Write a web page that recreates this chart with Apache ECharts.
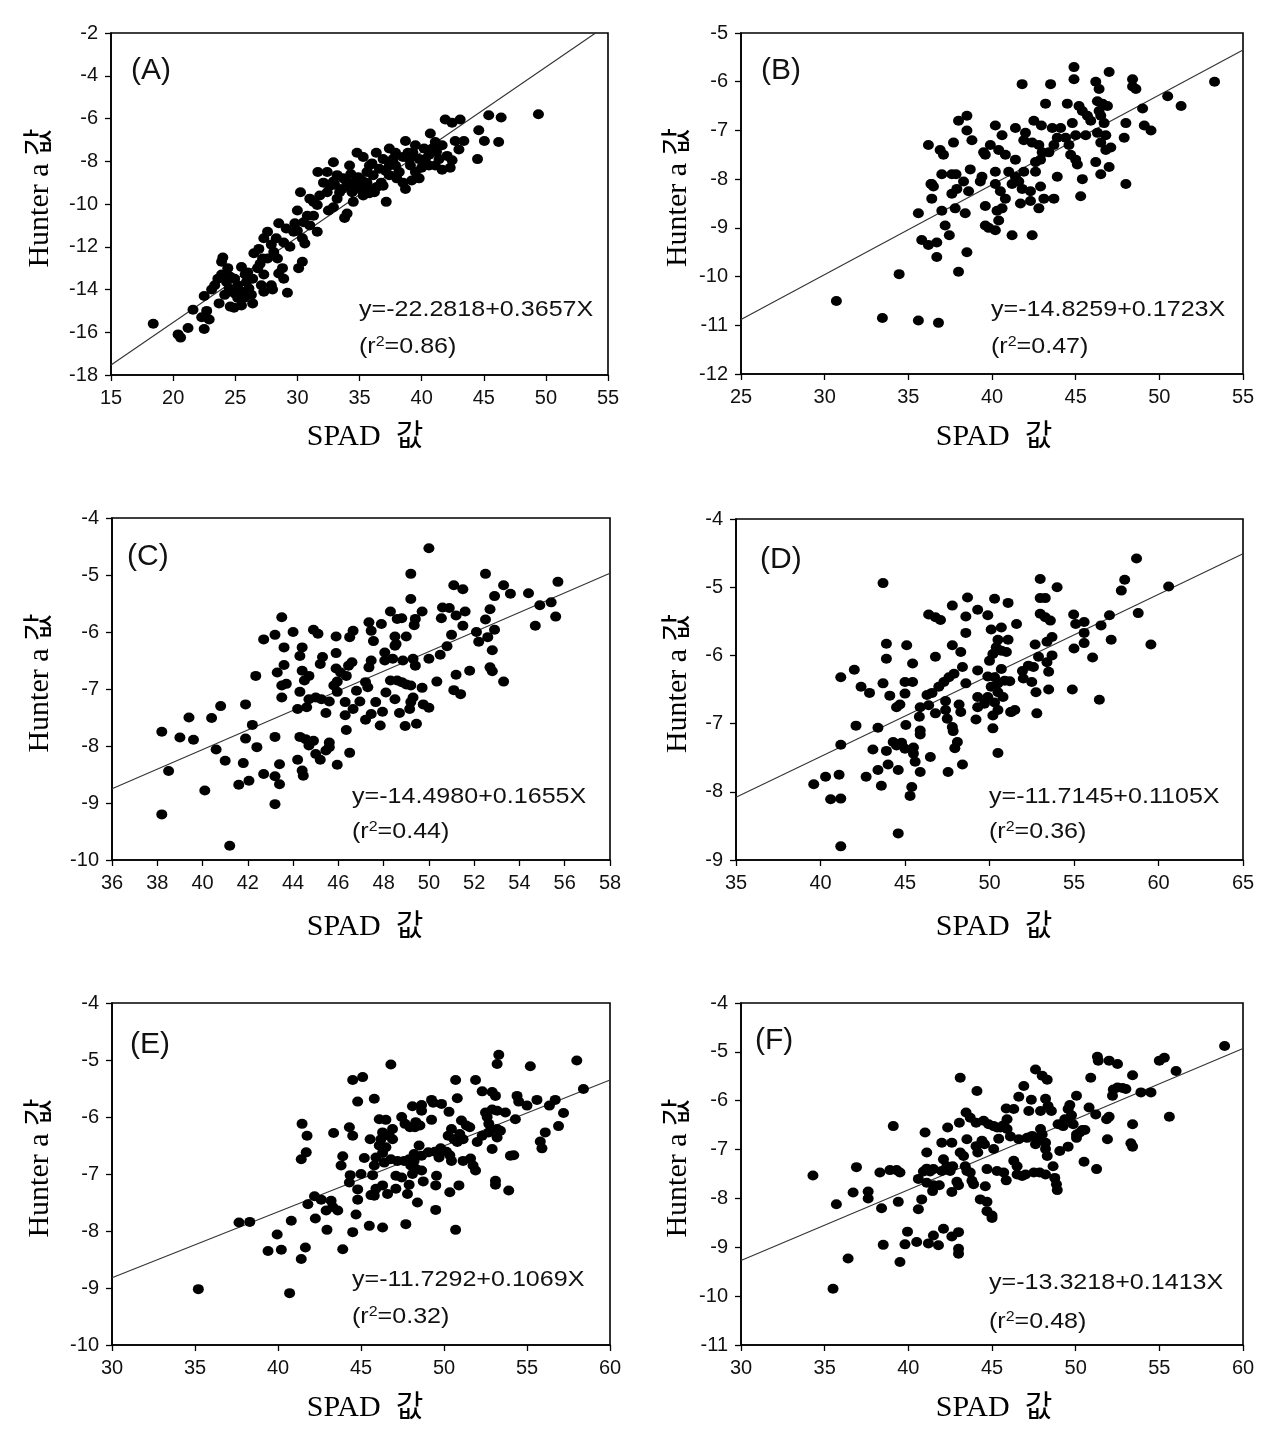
<!DOCTYPE html>
<html><head><meta charset="utf-8">
<script src="https://cdn.jsdelivr.net/npm/echarts@6/dist/echarts.min.js"></script>
<style>html,body{margin:0;padding:0;background:#fff}#c{width:1285px;height:1445px}</style>
</head><body><div id="c"></div>
<script>
// ---------------- DATA ----------------
const pointsA = [[18.4,-15.6],[20.4,-16.1],[20.6,-16.25],[21.2,-15.8],[21.6,-14.95],[22.5,-15.85],[22.3,-15.3],[22.7,-15.0],[22.9,-15.4],[22.5,-14.3],[23.1,-14.0],[23.7,-14.65],[24.0,-12.5],[23.9,-12.7],[24.6,-14.8],[24.9,-14.85],[23.9,-13.3],[24.3,-13.65],[24.5,-13.95],[24.95,-13.5],[25.2,-13.8],[25.6,-14.1],[25.9,-13.65],[26.1,-13.95],[26.4,-13.5],[25.5,-12.95],[26.4,-14.65],[26.3,-14.25],[23.35,-13.8],[24.15,-14.25],[25.2,-14.4],[25.7,-14.4],[26.5,-12.3],[26.9,-12.1],[27.6,-11.3],[27.3,-11.6],[27.9,-11.9],[27.2,-12.55],[26.8,-13.0],[27.3,-13.3],[27.9,-13.8],[28.0,-14.0],[28.4,-12.55],[28.5,-13.25],[28.9,-13.5],[29.2,-14.15],[28.8,-13.0],[28.5,-10.9],[29.1,-11.15],[29.4,-12.0],[30.0,-11.25],[30.4,-11.6],[30.6,-11.85],[30.1,-13.0],[30.4,-12.7],[30.0,-10.3],[30.25,-9.45],[30.5,-10.85],[31.0,-11.0],[31.3,-10.55],[31.6,-10.05],[31.65,-8.5],[32.4,-8.5],[32.1,-9.0],[32.6,-9.15],[32.5,-10.3],[32.9,-10.15],[33.2,-9.75],[33.4,-9.45],[33.8,-10.65],[34.0,-10.45],[34.2,-9.15],[34.6,-9.0],[35.0,-9.3],[35.3,-9.6],[34.5,-9.9],[33.7,-8.8],[33.2,-8.65],[34.8,-7.6],[35.3,-7.8],[35.8,-8.2],[36.35,-7.6],[36.9,-7.9],[37.15,-9.9],[36.75,-9.0],[36.1,-8.65],[35.6,-9.0],[36.6,-8.35],[37.4,-8.65],[37.9,-7.6],[38.7,-7.05],[39.5,-7.25],[39.3,-7.6],[39.8,-7.9],[38.5,-9.0],[38.7,-9.3],[39.8,-8.8],[37.9,-8.2],[38.2,-8.5],[39.1,-8.2],[40.7,-6.7],[41.1,-7.1],[41.65,-7.25],[41.9,-6.05],[42.45,-6.2],[43.1,-6.05],[42.7,-7.05],[43.4,-7.05],[43.0,-7.45],[42.3,-8.3],[41.65,-8.4],[41.1,-8.2],[40.6,-8.2],[44.6,-6.55],[45.05,-7.05],[44.5,-7.9],[45.4,-5.85],[46.4,-5.95],[46.2,-7.1],[49.4,-5.8],[28.9,-11.8],[29.7,-11.3],[30.8,-10.55],[31.0,-9.75],[31.8,-9.6],[32.4,-9.45],[32.9,-8.95],[33.6,-9.3],[34.4,-9.45],[34.9,-8.75],[35.6,-8.5],[35.7,-9.3],[36.2,-9.45],[36.9,-9.15],[37.4,-8.2],[37.7,-7.9],[39.5,-8.5],[40.3,-7.9],[40.2,-7.4],[41.4,-7.9],[42.05,-7.75],[40.85,-7.4],[42.45,-7.95],[39.0,-7.9],[31.6,-11.3],[28.1,-12.25],[27.6,-12.55],[26.0,-13.2],[24.4,-13.0],[23.6,-13.5],[24.7,-14.1],[26.0,-14.2],[25.5,-14.75],[27.1,-13.8],[27.3,-14.1],[32.9,-8.05],[34.2,-8.2],[37.4,-7.4],[38.5,-7.8],[35.8,-9.5],[33.0,-9.1],[33.9,-8.9],[34.3,-8.6],[35.2,-8.9],[36.0,-8.1],[36.4,-9.2],[37.1,-8.45],[38.0,-8.8],[38.9,-7.6],[39.2,-8.9],[40.0,-8.3],[40.6,-7.7],[41.2,-7.55],[25.0,-14.2],[24.6,-13.4],[25.8,-13.3],[27.0,-12.8],[28.3,-11.6],[29.8,-10.9],[31.3,-9.9]];

const pointsB = [[30.7,-10.5],[33.45,-10.85],[35.6,-10.9],[36.8,-10.95],[34.45,-9.95],[38.0,-9.9],[38.5,-9.5],[36.7,-9.6],[35.6,-8.7],[35.8,-9.25],[36.2,-9.35],[36.7,-9.3],[37.2,-8.95],[37.45,-9.15],[37.0,-8.65],[37.8,-8.6],[38.4,-8.7],[36.4,-8.4],[36.5,-8.15],[36.4,-8.1],[37.0,-7.9],[37.6,-7.9],[37.85,-7.9],[37.6,-8.3],[37.9,-8.2],[38.3,-8.05],[38.6,-8.25],[38.7,-7.8],[39.3,-8.05],[39.4,-7.95],[39.6,-8.55],[39.6,-8.95],[39.8,-9.0],[40.2,-9.05],[40.4,-8.85],[40.3,-8.65],[40.2,-8.1],[40.2,-7.85],[40.5,-8.25],[40.8,-8.4],[40.6,-8.6],[41.2,-9.15],[42.4,-9.15],[41.7,-8.5],[41.2,-8.1],[41.0,-7.85],[41.4,-7.95],[41.6,-8.05],[41.9,-7.85],[41.8,-8.2],[42.3,-8.25],[42.3,-8.45],[42.8,-8.6],[42.9,-8.15],[43.1,-8.4],[43.7,-8.4],[43.9,-7.95],[42.6,-7.85],[42.6,-7.65],[42.9,-7.6],[43.0,-7.45],[42.8,-7.3],[42.4,-7.25],[41.9,-7.2],[41.4,-7.6],[40.8,-7.5],[40.4,-7.4],[39.9,-7.3],[39.6,-7.5],[39.5,-7.45],[40.2,-6.9],[40.6,-7.1],[41.4,-6.95],[42.0,-7.05],[42.5,-6.8],[42.95,-6.9],[43.2,-6.45],[43.5,-6.05],[41.8,-6.05],[43.6,-6.95],[44.1,-6.95],[43.9,-7.15],[43.7,-7.3],[43.4,-7.45],[44.6,-7.3],[44.7,-7.5],[45.0,-7.6],[45.1,-7.7],[45.4,-8.0],[45.3,-8.35],[44.4,-7.15],[45.0,-7.1],[45.6,-7.1],[44.8,-6.85],[45.2,-6.5],[45.4,-6.6],[45.7,-6.7],[45.9,-6.8],[44.5,-6.45],[44.9,-5.95],[44.9,-5.7],[46.2,-6.0],[46.4,-6.15],[46.3,-6.4],[46.6,-6.45],[46.9,-6.5],[46.4,-6.6],[46.5,-6.7],[46.7,-6.85],[46.3,-7.05],[46.8,-7.1],[46.5,-7.25],[46.8,-7.4],[47.1,-7.35],[46.2,-7.65],[47.0,-7.75],[46.5,-7.9],[48.0,-8.1],[47.0,-5.8],[48.4,-5.95],[48.4,-6.1],[48.6,-6.15],[49.0,-6.55],[49.1,-6.9],[49.5,-7.0],[48.0,-6.85],[47.9,-7.15],[50.5,-6.3],[51.3,-6.5],[53.3,-6.0],[36.2,-7.3],[36.9,-7.4],[37.1,-7.5],[37.7,-7.25],[38.0,-6.8],[38.5,-6.7],[38.5,-7.0],[38.8,-7.2],[36.35,-8.1]];

const pointsC = [[50.0,-4.53],[49.2,-4.98],[52.5,-4.98],[49.2,-5.42],[51.1,-5.18],[51.5,-5.25],[53.3,-5.18],[53.6,-5.33],[54.4,-5.32],[55.7,-5.12],[52.9,-5.37],[52.7,-5.6],[54.9,-5.53],[55.4,-5.48],[55.6,-5.73],[54.7,-5.89],[52.5,-5.78],[52.9,-5.96],[52.6,-6.09],[52.1,-6.0],[52.2,-6.17],[52.8,-6.32],[52.7,-6.62],[52.8,-6.69],[53.3,-6.87],[51.8,-6.68],[51.2,-6.75],[51.1,-7.02],[51.4,-7.09],[50.6,-5.57],[50.9,-5.58],[51.2,-5.71],[51.6,-5.64],[50.55,-5.76],[51.5,-5.89],[51.0,-6.05],[50.8,-6.25],[50.5,-6.4],[50.0,-6.47],[50.35,-6.87],[49.7,-5.64],[49.4,-5.77],[49.35,-5.88],[48.3,-5.64],[48.6,-5.77],[48.8,-5.76],[47.9,-5.86],[47.35,-5.83],[47.45,-5.98],[47.55,-6.16],[48.5,-6.08],[48.55,-6.21],[48.5,-6.24],[49.0,-6.08],[48.05,-6.36],[48.4,-6.47],[48.85,-6.5],[49.3,-6.47],[49.4,-6.59],[47.45,-6.5],[47.35,-6.62],[48.05,-6.5],[48.3,-6.85],[48.6,-6.85],[48.8,-6.88],[49.0,-6.92],[49.2,-6.94],[49.7,-6.98],[48.1,-7.06],[48.5,-7.18],[49.3,-7.15],[49.2,-7.23],[49.15,-7.35],[49.75,-7.27],[50.0,-7.33],[48.7,-7.42],[48.95,-7.65],[49.45,-7.61],[47.95,-7.4],[47.85,-7.64],[47.65,-7.23],[47.2,-6.88],[47.3,-6.97],[47.45,-7.44],[47.2,-7.54],[46.95,-7.22],[46.65,-7.35],[46.8,-7.03],[46.35,-6.77],[46.6,-6.53],[46.45,-6.59],[46.3,-7.23],[46.3,-7.46],[46.35,-7.72],[46.5,-8.12],[45.95,-6.87],[45.8,-6.94],[45.95,-7.05],[46.1,-6.71],[45.9,-6.64],[45.9,-6.37],[45.9,-6.08],[46.5,-6.09],[46.65,-5.98],[45.3,-6.44],[45.2,-6.56],[44.9,-5.96],[45.1,-6.03],[44.4,-6.27],[44.3,-6.42],[44.4,-6.68],[44.7,-6.77],[44.5,-6.85],[44.3,-7.05],[44.2,-7.35],[44.6,-7.32],[44.7,-7.18],[45.0,-7.15],[45.25,-7.18],[45.6,-7.22],[45.45,-7.42],[43.6,-6.27],[43.6,-6.58],[43.3,-6.71],[43.5,-6.94],[43.7,-6.91],[43.5,-7.15],[43.5,-5.74],[44.0,-6.0],[43.2,-6.05],[42.7,-6.13],[42.35,-6.77],[41.9,-7.27],[42.2,-7.63],[40.8,-7.3],[40.4,-7.51],[39.4,-7.5],[38.2,-7.75],[39.0,-7.85],[39.6,-7.89],[40.6,-8.06],[41.0,-8.26],[38.5,-8.44],[40.1,-8.78],[38.2,-9.2],[41.2,-9.75],[41.9,-7.87],[42.4,-8.02],[41.8,-8.3],[41.6,-8.68],[42.05,-8.61],[42.7,-8.49],[43.2,-8.53],[43.4,-8.67],[43.4,-8.32],[43.2,-7.84],[43.2,-9.02],[44.3,-7.84],[44.2,-8.24],[44.4,-8.43],[44.45,-8.52],[44.55,-7.88],[44.7,-7.99],[44.9,-7.91],[45.0,-8.14],[45.2,-8.24],[45.45,-8.08],[45.6,-7.94],[45.6,-8.02],[45.95,-8.33]];

const pointsD = [[58.7,-4.58],[43.7,-4.94],[53.0,-4.88],[54.0,-5.0],[58.0,-4.89],[57.8,-5.05],[60.6,-4.99],[58.8,-5.38],[59.55,-5.84],[48.7,-5.15],[50.3,-5.17],[51.1,-5.23],[47.8,-5.27],[49.3,-5.33],[49.9,-5.41],[48.6,-5.43],[46.4,-5.4],[46.8,-5.44],[47.1,-5.48],[51.6,-5.54],[50.1,-5.62],[50.7,-5.59],[48.6,-5.67],[53.0,-5.16],[53.3,-5.16],[53.0,-5.39],[53.3,-5.44],[53.6,-5.49],[54.98,-5.4],[55.1,-5.54],[55.6,-5.51],[55.6,-5.67],[56.6,-5.56],[57.1,-5.41],[57.2,-5.77],[55.6,-5.82],[55.0,-5.9],[56.1,-6.03],[53.7,-5.73],[53.4,-5.8],[52.7,-5.84],[52.9,-6.02],[53.7,-6.0],[53.4,-6.1],[53.5,-6.24],[52.6,-6.17],[52.3,-6.15],[51.95,-6.23],[52.0,-6.34],[52.5,-6.39],[53.5,-6.5],[52.75,-6.54],[54.9,-6.5],[56.5,-6.65],[52.8,-6.85],[50.5,-5.77],[51.1,-5.77],[50.4,-5.88],[50.7,-5.93],[51.0,-5.95],[50.2,-5.98],[50.0,-6.08],[50.7,-6.2],[49.9,-6.31],[50.3,-6.32],[50.5,-6.41],[50.9,-6.37],[51.2,-6.38],[50.1,-6.46],[50.5,-6.54],[50.8,-6.61],[49.9,-6.61],[49.3,-6.61],[49.7,-6.71],[50.3,-6.69],[50.5,-6.8],[51.25,-6.83],[51.5,-6.8],[50.2,-6.88],[50.2,-7.07],[49.3,-6.76],[49.2,-6.94],[49.3,-6.22],[48.4,-6.17],[48.3,-5.95],[47.8,-5.85],[46.8,-6.02],[48.6,-6.41],[47.9,-6.27],[47.6,-6.32],[47.3,-6.39],[47.0,-6.46],[46.6,-6.55],[46.3,-6.58],[46.4,-6.73],[45.9,-6.76],[46.8,-6.85],[47.4,-6.67],[47.4,-6.8],[47.5,-6.93],[47.8,-7.05],[47.85,-7.11],[48.2,-6.72],[48.3,-6.83],[48.1,-7.27],[47.95,-7.36],[48.4,-7.6],[47.55,-7.71],[46.5,-7.49],[45.85,-6.9],[45.9,-7.1],[45.9,-7.16],[45.05,-7.02],[45.5,-7.35],[45.5,-7.44],[45.6,-7.56],[45.9,-7.71],[45.4,-7.93],[45.3,-8.06],[44.6,-8.61],[44.7,-6.72],[44.5,-6.76],[45.0,-6.56],[45.0,-6.39],[45.45,-6.39],[45.45,-6.12],[44.1,-6.59],[45.1,-5.85],[43.9,-5.83],[43.9,-6.05],[43.7,-6.41],[42.9,-6.55],[42.4,-6.46],[42.0,-6.21],[41.2,-6.32],[42.1,-7.03],[43.4,-7.06],[41.2,-7.31],[43.1,-7.38],[43.9,-7.4],[44.3,-7.27],[44.5,-7.32],[44.8,-7.28],[45.0,-7.37],[44.0,-7.6],[43.4,-7.68],[44.6,-7.68],[42.7,-7.78],[43.6,-7.91],[39.6,-7.89],[40.3,-7.78],[41.1,-7.75],[40.6,-8.11],[41.2,-8.1],[41.2,-8.8],[50.5,-7.43],[51.3,-6.83]];

const pointsE = [[35.2,-9.02],[40.7,-9.09],[37.65,-7.85],[38.3,-7.84],[39.4,-8.35],[40.2,-8.33],[39.95,-8.06],[41.4,-8.49],[41.65,-8.29],[40.8,-7.82],[43.9,-8.32],[41.45,-6.12],[41.75,-6.33],[41.7,-6.62],[41.4,-6.74],[41.8,-7.53],[42.2,-7.39],[42.6,-7.45],[42.25,-7.78],[42.9,-7.64],[43.2,-7.47],[43.3,-7.58],[43.6,-7.64],[42.95,-7.98],[43.35,-6.28],[44.5,-5.35],[45.1,-5.3],[44.8,-5.73],[45.8,-5.68],[46.8,-5.08],[44.3,-6.18],[44.5,-6.33],[43.9,-6.69],[43.8,-6.85],[44.35,-7.02],[44.3,-7.15],[45.0,-7.0],[44.8,-7.27],[44.8,-7.45],[44.7,-7.71],[44.5,-8.02],[45.5,-7.91],[46.3,-7.94],[45.2,-6.72],[45.55,-6.39],[45.7,-7.02],[45.9,-7.26],[45.8,-7.38],[45.6,-7.37],[46.3,-7.2],[46.6,-7.35],[47.1,-7.26],[47.1,-7.03],[47.45,-7.06],[47.9,-7.19],[47.8,-7.35],[48.4,-7.5],[47.7,-7.88],[48.75,-7.13],[49.55,-7.03],[49.5,-7.2],[49.5,-7.63],[50.35,-7.32],[50.9,-7.2],[50.7,-7.98],[46.1,-6.04],[46.5,-6.05],[46.3,-6.27],[46.2,-6.39],[46.1,-6.5],[46.5,-6.53],[46.3,-6.63],[46.7,-6.33],[46.9,-6.21],[46.9,-6.39],[45.9,-6.71],[45.8,-6.85],[46.4,-6.8],[46.8,-6.74],[47.2,-6.77],[47.6,-6.77],[47.9,-6.74],[48.2,-6.77],[48.0,-6.85],[48.3,-6.91],[48.65,-6.94],[48.1,-7.0],[48.5,-6.5],[48.2,-6.65],[48.65,-6.68],[49.05,-6.62],[49.45,-6.61],[49.8,-6.55],[50.15,-6.61],[50.35,-6.67],[50.45,-6.77],[49.7,-6.71],[47.45,-6.0],[47.65,-6.12],[47.95,-6.18],[48.3,-6.09],[48.55,-6.15],[48.25,-6.18],[48.1,-5.81],[48.65,-5.79],[48.65,-5.89],[49.25,-5.7],[49.35,-5.75],[49.85,-5.77],[49.25,-6.05],[50.3,-5.91],[50.45,-6.21],[50.25,-6.33],[50.6,-6.39],[50.8,-6.44],[50.8,-5.67],[50.7,-5.35],[51.05,-6.06],[51.35,-6.15],[50.95,-6.3],[51.15,-6.39],[51.55,-6.18],[51.9,-5.35],[52.3,-5.55],[51.15,-6.77],[51.6,-6.73],[51.75,-6.85],[51.9,-6.94],[52.0,-6.44],[52.3,-6.33],[52.7,-6.27],[52.5,-5.92],[52.9,-5.87],[52.6,-6.0],[52.7,-6.12],[52.9,-5.56],[53.1,-5.63],[53.3,-4.91],[53.2,-5.07],[53.2,-5.89],[53.7,-5.92],[53.4,-6.24],[53.2,-6.36],[52.9,-6.56],[53.1,-7.12],[53.1,-7.19],[53.9,-7.29],[54.0,-6.68],[54.2,-6.67],[54.3,-6.04],[54.4,-5.63],[54.5,-5.73],[55.0,-5.8],[55.2,-5.11],[55.6,-5.7],[56.35,-5.8],[56.7,-5.7],[56.1,-6.27],[55.8,-6.43],[55.9,-6.55],[56.9,-6.16],[57.2,-5.93],[58.0,-5.01],[58.4,-5.51],[53.2,-6.21]];

const pointsF = [[58.9,-4.88],[34.3,-7.53],[35.5,-9.85],[35.7,-8.12],[36.4,-9.23],[36.9,-7.36],[36.7,-7.88],[37.6,-7.86],[37.6,-8.0],[38.3,-7.47],[38.4,-8.2],[38.5,-8.95],[39.1,-6.52],[38.9,-7.42],[39.3,-7.42],[39.5,-7.47],[39.4,-8.07],[39.5,-9.3],[39.95,-8.68],[39.8,-8.94],[40.5,-8.89],[40.6,-8.22],[40.8,-8.02],[40.6,-7.6],[41.0,-6.65],[41.1,-7.06],[41.1,-7.39],[40.9,-7.45],[41.3,-7.45],[41.5,-7.4],[41.1,-7.68],[41.45,-7.85],[41.5,-7.73],[41.85,-7.73],[42.0,-7.44],[42.1,-7.2],[42.3,-7.34],[42.5,-7.44],[42.65,-7.34],[42.6,-7.87],[43.0,-7.73],[42.9,-7.66],[41.5,-8.76],[41.2,-8.92],[41.8,-8.96],[42.1,-8.62],[42.6,-8.78],[43.0,-8.69],[43.0,-9.03],[43.0,-9.13],[42.0,-6.86],[42.6,-6.86],[42.35,-6.55],[43.1,-5.53],[43.05,-6.45],[43.1,-7.06],[43.3,-7.13],[43.4,-7.34],[43.5,-7.44],[43.7,-7.47],[43.8,-7.64],[43.9,-7.71],[43.5,-6.79],[43.45,-6.24],[43.7,-6.35],[44.05,-6.45],[44.1,-5.8],[44.05,-6.93],[44.15,-7.06],[44.4,-6.82],[44.55,-6.89],[44.5,-6.41],[44.8,-6.48],[45.1,-6.52],[45.3,-6.55],[45.5,-6.55],[45.7,-6.5],[45.9,-6.38],[45.85,-6.16],[46.3,-6.17],[45.9,-6.58],[46.1,-6.73],[45.4,-6.78],[45.1,-6.99],[44.7,-7.4],[44.6,-7.75],[44.3,-8.02],[44.7,-8.07],[44.7,-8.26],[45.0,-8.35],[45.0,-8.4],[45.3,-7.44],[45.7,-7.47],[45.85,-7.63],[46.3,-7.23],[46.5,-7.34],[46.5,-7.51],[46.8,-7.54],[47.0,-7.51],[46.6,-6.79],[47.1,-6.76],[47.4,-6.72],[47.6,-6.89],[47.7,-6.79],[47.9,-6.58],[48.0,-6.69],[48.2,-6.86],[48.2,-6.99],[48.3,-7.13],[47.5,-7.47],[47.85,-7.47],[48.2,-7.51],[48.65,-7.34],[48.75,-7.58],[48.85,-7.71],[48.9,-7.83],[46.6,-5.92],[46.9,-5.7],[47.35,-5.98],[47.2,-6.21],[47.6,-5.36],[48.0,-5.49],[48.3,-5.57],[48.2,-5.96],[48.35,-6.11],[47.9,-6.21],[48.55,-6.21],[49.05,-7.03],[49.55,-6.94],[48.95,-6.48],[49.25,-6.52],[49.35,-6.38],[49.55,-6.17],[49.65,-6.09],[49.75,-6.3],[49.85,-6.48],[50.05,-5.9],[50.05,-6.69],[50.25,-6.65],[50.4,-6.6],[50.55,-6.6],[50.05,-6.76],[50.5,-7.25],[50.8,-6.14],[50.9,-5.53],[51.2,-6.28],[51.3,-5.1],[51.35,-5.18],[52.0,-5.18],[52.5,-5.25],[51.25,-7.4],[51.9,-6.79],[51.85,-6.38],[52.0,-6.33],[52.2,-5.9],[52.25,-5.77],[52.5,-5.73],[52.8,-5.74],[53.0,-5.76],[53.4,-5.48],[53.4,-6.48],[53.3,-6.87],[53.4,-6.94],[53.9,-5.83],[54.5,-5.83],[55.0,-5.18],[55.3,-5.12],[56.0,-5.39],[55.6,-6.33]];

// fitted regression lines as drawn in the figure (end points)
const fitA = [[15,-17.53],[54.0,-2.0]];
const fitB = [[25,-10.88],[55,-5.35]];
const fitC = [[36,-8.75],[58,-4.97]];
const fitD = [[35,-8.08],[65,-4.51]];
const fitE = [[30,-8.82],[60,-5.35]];
const fitF = [[30,-9.27],[60,-4.93]];

// axis tick labels
const xTicksA = [15,20,25,30,35,40,45,50,55];
const yTicksA = [-18,-16,-14,-12,-10,-8,-6,-4,-2];
const xTicksB = [25,30,35,40,45,50,55];
const yTicksB = [-12,-11,-10,-9,-8,-7,-6,-5];
const xTicksC = [36,38,40,42,44,46,48,50,52,54,56,58];
const yTicksC = [-10,-9,-8,-7,-6,-5,-4];
const xTicksD = [35,40,45,50,55,60,65];
const yTicksD = [-9,-8,-7,-6,-5,-4];
const xTicksE = [30,35,40,45,50,55,60];
const yTicksE = [-10,-9,-8,-7,-6,-5,-4];
const xTicksF = [30,35,40,45,50,55,60];
const yTicksF = [-11,-10,-9,-8,-7,-6,-5,-4];

const panelLabels = ['(A)','(B)','(C)','(D)','(E)','(F)'];
const equations = ['y=-22.2818+0.3657X','y=-14.8259+0.1723X','y=-14.4980+0.1655X','y=-11.7145+0.1105X','y=-11.7292+0.1069X','y=-13.3218+0.1413X'];
const r2Values = ['0.86','0.47','0.44','0.36','0.32','0.48'];
const xTitle = 'SPAD  값';
const yTitle = 'Hunter a 값';

// ---------------- LAYOUT ----------------
const layout = [
  {left:111, top:33,  width:497, height:342, lab:[131,71],  eq:[359,310], r2:[359,347], yt:40,  xt:[365,437]},
  {left:741, top:33,  width:502, height:341, lab:[761,71],  eq:[991,310], r2:[991,347], yt:678, xt:[994,437]},
  {left:112, top:518, width:498, height:342, lab:[127,557], eq:[352,797], r2:[352,832], yt:40,  xt:[365,927]},
  {left:736, top:519, width:507, height:341, lab:[760,560], eq:[989,797], r2:[989,832], yt:678, xt:[994,927]},
  {left:112, top:1003,width:498, height:342, lab:[130,1045],eq:[352,1280],r2:[352,1317],yt:40,  xt:[365,1408]},
  {left:741, top:1003,width:502, height:342, lab:[755,1041],eq:[989,1283],r2:[989,1322],yt:678, xt:[994,1408]}
];

const pts = [pointsA,pointsB,pointsC,pointsD,pointsE,pointsF];
const fits = [fitA,fitB,fitC,fitD,fitE,fitF];
const xT = [xTicksA,xTicksB,xTicksC,xTicksD,xTicksE,xTicksF];
const yT = [yTicksA,yTicksB,yTicksC,yTicksD,yTicksE,yTicksF];

const SANS = '"Liberation Sans", Arial, sans-serif';
const SERIF = '"Liberation Serif", "Noto Sans CJK KR", serif';

const grid=[], xAxis=[], yAxis=[], series=[], graphic=[];
layout.forEach((L,i)=>{
  grid.push({left:L.left, top:L.top, width:L.width, height:L.height, show:true, borderColor:'#000', borderWidth:1.6, backgroundColor:'transparent', containLabel:false});
  const axCommon = {
    type:'value', splitLine:{show:false},
    axisLine:{show:true, onZero:false, lineStyle:{color:'#000', width:1.6}},
    axisTick:{show:true, inside:false, length:6, lineStyle:{color:'#000', width:1.3}},
    axisLabel:{color:'#111', fontSize:20, fontFamily:SANS}
  };
  const xt = xT[i], yt = yT[i];
  xAxis.push(Object.assign({}, axCommon, {gridIndex:i, min:xt[0], max:xt[xt.length-1], interval:xt[1]-xt[0],
    axisLabel:Object.assign({}, axCommon.axisLabel, {margin:13})}));
  yAxis.push(Object.assign({}, axCommon, {gridIndex:i, min:yt[0], max:yt[yt.length-1], interval:yt[1]-yt[0],
    axisLabel:Object.assign({}, axCommon.axisLabel, {margin:13})}));
  series.push({type:'line', xAxisIndex:i, yAxisIndex:i, data:fits[i], symbol:'none', silent:true, z:1,
    lineStyle:{color:'#333', width:1.1}});
  series.push({type:'scatter', xAxisIndex:i, yAxisIndex:i, data:pts[i], symbol:'circle', symbolSize:[11,10], z:2,
    itemStyle:{color:'#000', opacity:1}});
  graphic.push({type:'text', x:L.lab[0], y:L.lab[1], style:{text:panelLabels[i], fontSize:30, fontFamily:SANS, fill:'#111', align:'left', verticalAlign:'middle'}});
  graphic.push({type:'text', x:L.eq[0], y:L.eq[1], scaleX:1.14, style:{text:equations[i], fontSize:22, fontFamily:SANS, fill:'#111', align:'left', verticalAlign:'middle'}});
  graphic.push({type:'text', x:L.r2[0], y:L.r2[1], scaleX:1.14, style:{text:'(r{s|2}=' + r2Values[i] + ')', fontSize:22, fontFamily:SANS, fill:'#111', align:'left', verticalAlign:'middle',
    rich:{s:{fontSize:14, fontFamily:SANS, fill:'#111', verticalAlign:'top', padding:[0,0,10,0]}}}});
  graphic.push({type:'text', x:L.yt, y:L.top + L.height/2 - 6, rotation:Math.PI/2, style:{text:yTitle, fontSize:30, fontFamily:SERIF, fill:'#000', align:'center', verticalAlign:'middle'}});
  graphic.push({type:'text', x:L.xt[0], y:L.xt[1], style:{text:xTitle, fontSize:30, fontFamily:SERIF, fill:'#000', align:'center', verticalAlign:'middle'}});
});

const chart = echarts.init(document.getElementById('c'), null, {renderer:'canvas'});
chart.setOption({animation:false, backgroundColor:'#fff', grid, xAxis, yAxis, series, graphic});
</script>
</body></html>
